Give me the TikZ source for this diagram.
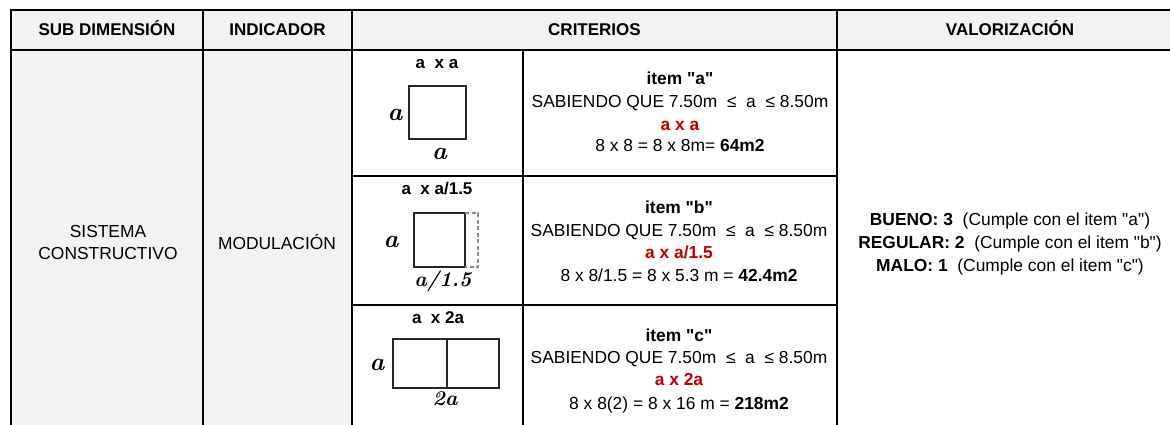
\documentclass[tikz,border=0pt]{standalone}
\usepackage{fontspec}
\newfontfamily\arial{Liberation Sans}
\definecolor{cellgray}{HTML}{F2F2F2}
\definecolor{xred}{HTML}{C00000}
\tikzset{
  hdr/.style={font=\arial\bfseries\fontsize{17}{20}\selectfont, anchor=base, inner sep=0pt},
  body/.style={font=\arial\fontsize{17.4}{22}\selectfont, anchor=base, inner sep=0pt},
  bodyb/.style={body, font=\arial\bfseries\fontsize{17.4}{22}\selectfont},
  redb/.style={bodyb, text=xred},
  lbl/.style={font=\fontsize{21}{21}\selectfont\bfseries\itshape, inner sep=0pt},
  lblbig/.style={font=\fontsize{25}{25}\selectfont\bfseries\itshape, inner sep=0pt},
  gridline/.style={line width=2.2pt, black},
  fig/.style={line width=1.8pt, black!85},
  figdash/.style={line width=1.4pt, black!45, dashed, dash pattern=on 4pt off 2.5pt}
}
\begin{document}
\begin{tikzpicture}[x=1pt,y=-1pt]
\useasboundingbox (0,0) rectangle (1170,425);
\clip (0,0) rectangle (1170,425);
% fills
\fill[cellgray] (11,10) rectangle (1190,50);
\fill[cellgray] (11,50) rectangle (352,440);
% grid
\draw[gridline] (10,10) -- (1190,10);
\draw[gridline] (10,50) -- (1190,50);
\draw[gridline] (11,9) -- (11,440);
\draw[gridline] (203,9) -- (203,440);
\draw[gridline] (352,9) -- (352,440);
\draw[gridline] (523,50) -- (523,440);
\draw[gridline] (837,9) -- (837,440);
\draw[gridline] (352,176) -- (837,176);
\draw[gridline] (352,305) -- (837,305);
% header
\node[hdr] (h1) at (107,36) {SUB DIMENSIÓN};
\node[hdr] (h2) at (277.5,36) {INDICADOR};
\node[hdr] (h3) at (594.5,36) {CRITERIOS};
\node[hdr] (h4) at (1010,36) {VALORIZACIÓN};
% first columns
\node[body] (s1) at (108,237) {SISTEMA};
\node[body] (s2) at (108,259) {CONSTRUCTIVO};
\node[body] (m1) at (277,249) {MODULACIÓN};
% diagram a
\node[hdr] (ta) at (437,69) {a\ \ x a};
\draw[fig] (409,86) rectangle (466,139);
\node[lblbig] (la1) at (395,115) {a};
\node[lblbig] (la2) at (439.5,154) {a};
% diagram b
\node[hdr] (tb) at (437,194) {a\ \ x a/1.5};
\draw[fig] (414,213) rectangle (465,267);
\draw[figdash] (465,213) -- (478,213) -- (478,267) -- (465,267);
\node[lblbig] (lb1) at (391,242) {a};
\node[lbl] (lb2) at (443,281) {a/1.5};
% diagram c
\node[hdr] (tc) at (438,323) {a\ \ x 2a};
\draw[fig] (393,339) rectangle (499,388);
\draw[fig] (447,339) -- (447,388);
\node[lblbig] (lc1) at (377,365) {a};
\node[lbl] (lc2) at (445,399) {2a};
% criteria a
\node[bodyb] (ca1) at (680,85) {item "a"};
\node[body] (ca2) at (680,108) {SABIENDO QUE 7.50m\ \ ≤\ \ a\ \ ≤ 8.50m};
\node[redb] (ca3) at (680,131) {a x a};
\node[body] (ca4) at (680,152) {8 x 8 = 8 x 8m= \textbf{64m2}};
% criteria b
\node[bodyb] (cb1) at (679,213) {item "b"};
\node[body] (cb2) at (679,236) {SABIENDO QUE 7.50m\ \ ≤\ \ a\ \ ≤ 8.50m};
\node[redb] (cb3) at (679,258) {a x a/1.5};
\node[body] (cb4) at (679,281) {8 x 8/1.5 = 8 x 5.3 m = \textbf{42.4m2}};
% criteria c
\node[bodyb] (cc1) at (679,341) {item "c"};
\node[body] (cc2) at (679,363) {SABIENDO QUE 7.50m\ \ ≤\ \ a\ \ ≤ 8.50m};
\node[redb] (cc3) at (679,385) {a x 2a};
\node[body] (cc4) at (679,409) {8 x 8(2) = 8 x 16 m = \textbf{218m2}};
% valorizacion
\node[body] (v1) at (1010,225) {\textbf{BUENO: 3}\ \ (Cumple con el item "a")};
\node[body] (v2) at (1010,248) {\textbf{REGULAR: 2}\ \ (Cumple con el item "b")};
\node[body] (v3) at (1010,271) {\textbf{MALO: 1}\ \ (Cumple con el item "c")};
\end{tikzpicture}
\end{document}
